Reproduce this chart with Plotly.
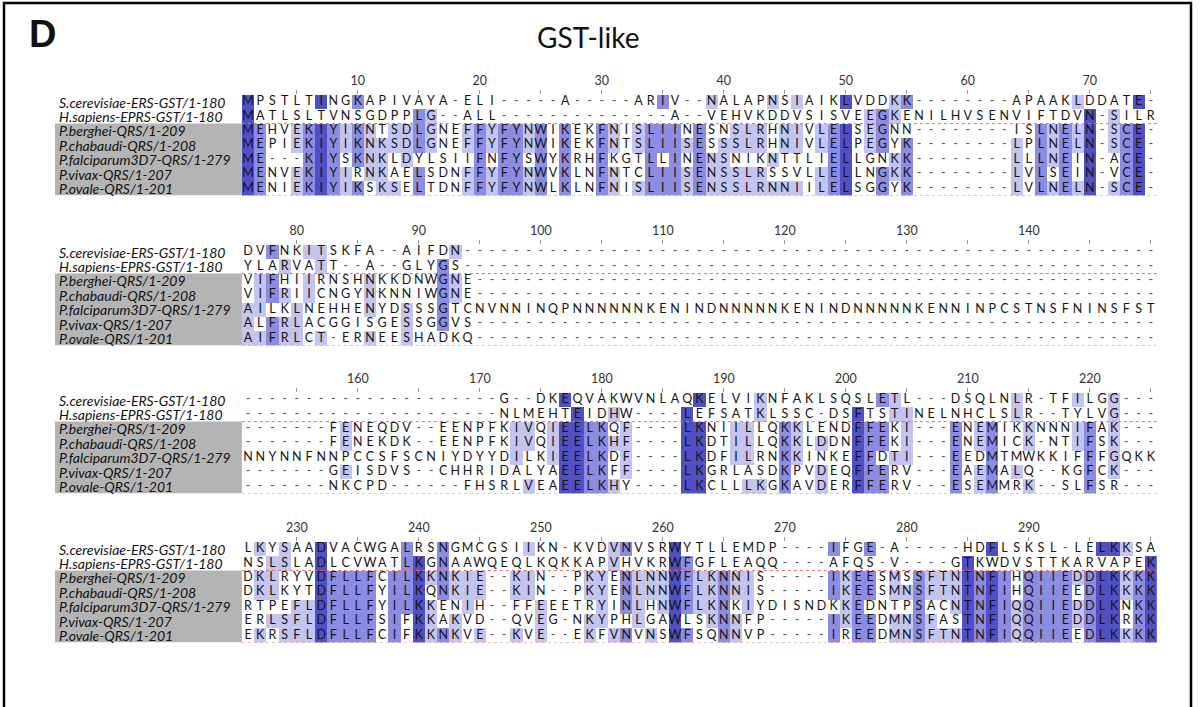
import plotly.graph_objects as go

# ---------------- data ----------------
species = [
    "S.cerevisiae-ERS-GST/1-180",
    "H.sapiens-EPRS-GST/1-180",
    "P.berghei-QRS/1-209",
    "P.chabaudi-QRS/1-208",
    "P.falciparum3D7-QRS/1-279",
    "P.vivax-QRS/1-207",
    "P.ovale-QRS/1-201",
]
highlighted_rows = [3, 4, 5, 6, 7]          # rows with grey label background
block_start = [1, 76, 151, 226]

aln_block1 = [
    "MPSTLTINGKAPIVAYA-ELI-----A-----ARIV--NALAPNSIAIKLVDDKK--------APAAKLDDATE-",
    "MATLSLTVNSGDPPLG--ALL--------------A--VEHVKDDVSISVEEGKENILHVSENVIFTDVN-SILR",
    "MEHVEKIYIKNTSDLGNEFFYFYNWIKEKFNISLIINESNSLRHNIVLELSEGNN--------ISLNELN-SCE-",
    "MEPIEKIYIKNKSDLGNEFFYFYNWIKEKFNTSLIISESSSLRHNIVLELPEGYK--------LPLNELN-SCE-",
    "ME---KIYSKNKLDYLSIIFNFYSWYKRHFKGTLLINENSNIKNTTLIELLGNKK--------LLLNEIN-ACE-",
    "MENVEKIYIRNKAELSDNFFYFYNWVKLNFNTCLIISENSSLRSSVLLELLNGKK--------LVLSEIN-VCE-",
    "MENIEKIYIKSKSELTDNFFYFYNWLKLNFNISLIISENSSLRNNIILELSGGYK--------LVLNELN-SCE-",
]
aln_block2 = [
    "DVFNKITSKFA--AIFDN---------------------------------------------------------",
    "YLARVATT--A--GLYGS---------------------------------------------------------",
    "VIFHIIRNSHNKKDNWGNE--------------------------------------------------------",
    "VIFRIICNGYNKNNIWGNE--------------------------------------------------------",
    "AILKLNEHHENYDSSSGTCNVNNINQPNNNNNNKENINDNNNNNKENINDNNNNNKENNINPCSTNSFNINSFST",
    "ALFRLACGGISGESSGGVS--------------------------------------------------------",
    "AIFRLCT-ERNEESHADKQ--------------------------------------------------------",
]
aln_block3 = [
    "---------------------G--DKEQVAKWVNLAQKELVIKNFAKLSQSLETL---DSQLNLR-TFILGG---",
    "---------------------NLMEHTEIDHW----LEFSATKLSSC-DSFTSTINELNHCLSLR--TYLVG---",
    "-------FENEQDV--EENPFKIVQIEELKQF----LKNIILLQKKLENDFFEKI---ENEMIKKNNNIFAK---",
    "-------FENEKDK--EENPFKIVQIEELKHF----LKDTILLQKKLDDNFFEKI---ENEMICK-NTIFSK---",
    "NNYNNFNNPCCSFSCNIYDYYDILKIEELKDF----LKDFILRNKKINKEFFDTI---EEDMTMWKKIFFFGQKK",
    "-------GEISDVS--CHHRIDALYAEELKFF----LKGRLASDKPVDEQFFERV---EAEMALQ--KGFCK---",
    "-------NKCPD------FHSRLVEAEELKHY----LKCLLLKGKAVDERFFERV---ESEMMRK--SLFSR---",
]
aln_block4 = [
    "LKYSAADVACWGALRSNGMCGSIIKN-KVDVNVSRWYTLLEMDP----IFGE-A-----HDFLSKSL-LELKKSA",
    "NSLSLADLCVWATLKGNAAWQEQLKQKKAPVHVKRWFGFLEAQQ----AFQS-V----GTKWDVSTTKARVAPEK",
    "DKLRYVDFLLFCILKKNKIE--KIN--PKYENLNNWFLKNNIS-----IKEESMSSFTNTNFIHQIIEDDLKKKK",
    "DKLKYTDFLLFYILKQNKIE--KIN--PKYENLNNWFLKNNIS-----IKEESMNSFTNTNFIHQIIEEDLKKKK",
    "RTPEFLDFLLFYILKKENIH--FFEEETRYINLHNWFLKNKIYDISNDKKEDNTPSACNTNFIQQIIEDDLKNKK",
    "ERLSFLDFLLFSIFKKAKVD--QVEG-NKYPHLGAWLSKNNFP-----IKEEDMNSFASTNFIQQIIEDDLKRKK",
    "EKRSFLDFLLFCIFKKNKVE--KVE--EKFVNVNSWFSQNNVP-----IREEDMNSFTNTNFIQQIIEEDLKKKK",
]
aln_blocks = [aln_block1, aln_block2, aln_block3, aln_block4]
title_text = "GST-like"
panel_label = "D"

# ---------------- style / layout ----------------
W, H = 1203, 707
COL_X0 = 248.0      # pixel centre of column 1
COL_DX = 12.2       # pixel width of one column
ROW_DY = 14.4       # pixel height of one row
ROW1_Y = [102, 252, 400, 549]   # pixel centre of first row of each block
LABEL_X = 57
GRAY_X0 = 55
NCOL = 75
PID_COLORS = ["#c4c4f0", "#8c8ce2", "#5050c4"]   # >40%, >60%, >80%
FONT_SEQ = "Lato"
FONT_LBL = "Lato"


def pid_levels(rows):
    n = len(rows)
    L = min(len(r) for r in rows)
    lv = [[None] * L for _ in rows]
    for c in range(L):
        col = [r[c] for r in rows]
        counts = {}
        for ch in col:
            if ch != "-":
                counts[ch] = counts.get(ch, 0) + 1
        if not counts:
            continue
        m = max(counts.values())
        pct = 100.0 * m / n
        level = 3 if pct > 80 else 2 if pct > 60 else 1 if pct > 40 else 0
        if level == 0:
            continue
        modal = {k for k, v in counts.items() if v == m}
        for i, ch in enumerate(col):
            if ch in modal:
                lv[i][c] = level
    return lv


fig = go.Figure()
layout = dict(
    width=W, height=H, margin=dict(l=0, r=0, t=0, b=0),
    paper_bgcolor="white", plot_bgcolor="rgba(0,0,0,0)", showlegend=False,
)
annotations = []
shapes = []

x_dom = [(COL_X0 - COL_DX / 2) / W, (COL_X0 + (NCOL - 0.5) * COL_DX) / W]
cscale = [[0, PID_COLORS[0]], [0.3333, PID_COLORS[0]], [0.3334, PID_COLORS[1]],
          [0.6666, PID_COLORS[1]], [0.6667, PID_COLORS[2]], [1, PID_COLORS[2]]]

for b, rows in enumerate(aln_blocks):
    sfx = "" if b == 0 else str(b + 1)
    xa, ya = "x" + sfx, "y" + sfx
    top = ROW1_Y[b] - ROW_DY / 2
    bot = top + ROW_DY * len(rows)
    start = block_start[b]
    tickvals, ticktext = [], []
    for col in range(1, NCOL + 1):
        pos = start + col - 1
        if pos % 5 == 0:
            tickvals.append(col)
            ticktext.append(str(pos) if (pos % 10 == 0 and col < NCOL) else "")
    layout["xaxis" + sfx] = dict(
        domain=x_dom, range=[0.5, NCOL + 0.5], anchor=ya, side="top",
        tickmode="array", tickvals=tickvals, ticktext=ticktext,
        ticks="outside", ticklen=4, tickwidth=1, tickcolor="#999999",
        tickfont=dict(family=FONT_LBL, size=12.5, color="#333333"),
        showgrid=False, zeroline=False, showline=False, fixedrange=True,
    )
    layout["yaxis" + sfx] = dict(
        domain=[1 - bot / H, 1 - top / H], range=[len(rows) + 0.5, 0.5],
        anchor=xa, visible=False, fixedrange=True,
    )
    # grey background behind plasmodium labels
    shapes.append(dict(type="rect", xref="paper", yref=ya, layer="below",
                       x0=GRAY_X0 / W, x1=x_dom[0], y0=min(highlighted_rows) - 0.5,
                       y1=max(highlighted_rows) + 0.5, fillcolor="#b4b4b4", line=dict(width=0)))
    # red dotted separators
    for yy in (min(highlighted_rows) - 0.5, len(rows) + 0.5):
        shapes.append(dict(type="line", xref=xa, yref=ya, x0=0.5, x1=NCOL + 0.5, y0=yy, y1=yy,
                           line=dict(color="#e07070", width=1, dash="dot")))
    lv = pid_levels(rows)
    fig.add_trace(go.Heatmap(
        z=lv, x=list(range(1, NCOL + 1)), y=list(range(1, len(rows) + 1)),
        colorscale=cscale, zmin=1, zmax=3, showscale=False, hoverinfo="skip",
        xaxis=xa, yaxis=ya,
    ))
    lx, ly, lt, gx, gy, gt = [], [], [], [], [], []
    for r, seq in enumerate(rows):
        for c, ch in enumerate(seq):
            if ch == "-":
                gx.append(c + 1); gy.append(r + 1); gt.append("-")
            else:
                lx.append(c + 1); ly.append(r + 1); lt.append(ch)
    fig.add_trace(go.Scatter(x=lx, y=ly, text=lt, mode="text", hoverinfo="skip",
                             textfont=dict(family=FONT_SEQ, size=12.5, color="#151515"),
                             xaxis=xa, yaxis=ya))
    fig.add_trace(go.Scatter(x=gx, y=gy, text=gt, mode="text", hoverinfo="skip",
                             textfont=dict(family=FONT_SEQ, size=12.5, color="#555555"),
                             xaxis=xa, yaxis=ya))
    for r, name in enumerate(species):
        annotations.append(dict(xref="paper", yref=ya, x=LABEL_X / W, y=r + 1,
                                xanchor="left", yanchor="middle", showarrow=False,
                                text="<i>" + name + "</i>",
                                font=dict(family=FONT_LBL, size=14, color="#111111")))

annotations.append(dict(xref="paper", yref="paper", x=588 / W, y=1 - 37 / H,
                        xanchor="center", yanchor="middle", showarrow=False,
                        text=title_text, font=dict(family=FONT_LBL, size=28, color="#111111")))
annotations.append(dict(xref="paper", yref="paper", x=27 / W, y=1 - 34 / H,
                        xanchor="left", yanchor="middle", showarrow=False,
                        text="<b>" + panel_label + "</b>",
                        font=dict(family="Liberation Sans", size=38, color="#111111")))
shapes.append(dict(type="rect", xref="paper", yref="paper", x0=4 / W, x1=1191 / W,
                   y0=-0.2, y1=1 - 3 / H, line=dict(color="black", width=2.5)))

layout["annotations"] = annotations
layout["shapes"] = shapes
fig.update_layout(**layout)
fig.write_html("out.html", config={"displayModeBar": False},
               post_script="document.body.style.margin='0';")
